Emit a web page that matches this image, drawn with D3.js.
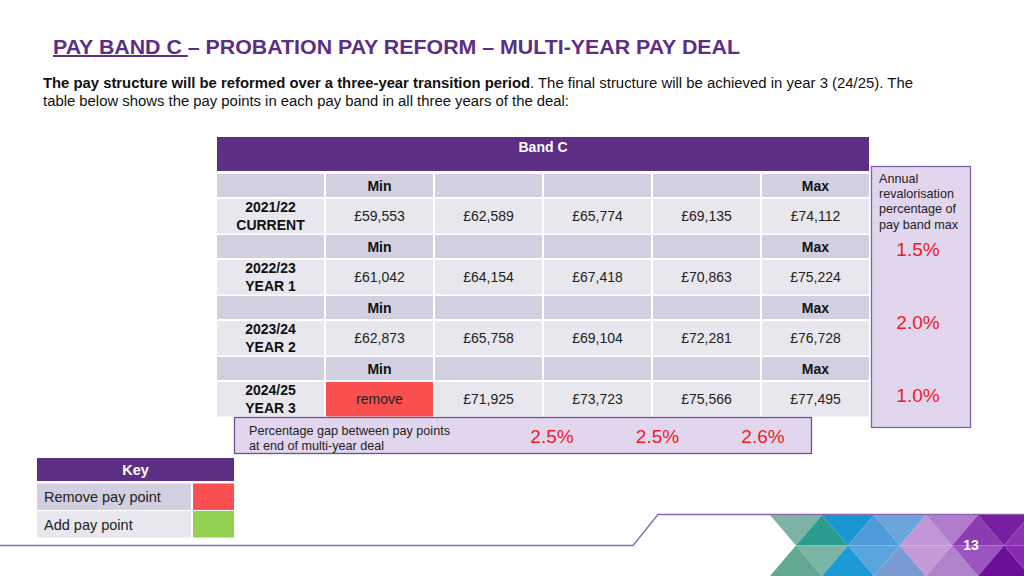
<!DOCTYPE html>
<html>
<head>
<meta charset="utf-8">
<script src="https://cdn.jsdelivr.net/npm/d3@7"></script>
<style>
  body { margin: 0; background: #fff; }
  svg { display: block; font-family: "Liberation Sans", Arial, sans-serif; }
</style>
</head>
<body>
<script>
// ---- data ----
var years = ["2021/22", "2022/23", "2023/24", "2024/25"],
    yearTags = ["CURRENT", "YEAR 1", "YEAR 2", "YEAR 3"],
    points = ["Min", "p2", "p3", "p4", "Max"],
    pay2122 = [59553, 62589, 65774, 69135, 74112],
    pay2223 = [61042, 64154, 67418, 70863, 75224],
    pay2324 = [62873, 65758, 69104, 72281, 76728],
    pay2425 = [null, 71925, 73723, 75566, 77495],   // null = pay point removed
    revalorisation = ["1.5%", "2.0%", "1.0%"],
    pointGaps = ["2.5%", "2.5%", "2.6%"],
    keyLabels = ["Remove pay point", "Add pay point"],
    keyColours = ["#fa4f4f", "#92d050"];

var payRows = [pay2122, pay2223, pay2324, pay2425];

// colours
var purple = "#5c2e84",
    minFill = "#d1cfe0",
    dataFill = "#e8e7ee",
    lavender = "#e1d6ee",
    red = "#ee1c25";

var width = 1024, height = 576;

var svg = d3.select("body").append("svg")
    .attr("width", width)
    .attr("height", height);

// ---- title + intro ----
var title = svg.append("text")
    .attr("x", 53).attr("y", 54)
    .attr("fill", purple)
    .attr("font-size", 20).attr("font-weight", "bold")
    .attr("textLength", 687).attr("lengthAdjust", "spacingAndGlyphs");
title.append("tspan").attr("text-decoration", "underline").text("PAY BAND C ");
title.append("tspan").text("– PROBATION PAY REFORM – MULTI-YEAR PAY DEAL");

var intro1 = svg.append("text").attr("x", 43).attr("y", 88).attr("font-size", 14).attr("fill", "#111");
intro1.append("tspan").attr("font-weight", "bold")
    .attr("textLength", 487).attr("lengthAdjust", "spacingAndGlyphs")
    .text("The pay structure will be reformed over a three-year transition period");
intro1.append("tspan")
    .attr("textLength", 383).attr("lengthAdjust", "spacingAndGlyphs")
    .text(". The final structure will be achieved in year 3 (24/25). The");
svg.append("text").attr("x", 43).attr("y", 106).attr("font-size", 14).attr("fill", "#111")
    .attr("textLength", 526).attr("lengthAdjust", "spacingAndGlyphs")
    .text("table below shows the pay points in each pay band in all three years of the deal:");

// ---- table scales ----
var x = d3.scaleBand()
    .domain(["label"].concat(points))
    .range([217, 869])
    .paddingInner(0.018);

var y = d3.scaleBand()
    .domain(years)
    .range([174, 416.5])
    .paddingInner(0.025);

var minH = 23, dataOff = 25;
var fmt = function(v) { return "£" + d3.format(",")(v); };

// header
svg.append("rect")
    .attr("x", x.range()[0]).attr("y", 137)
    .attr("width", x.range()[1] - x.range()[0]).attr("height", 34)
    .attr("fill", purple);
svg.append("text")
    .attr("x", (x.range()[0] + x.range()[1]) / 2).attr("y", 152)
    .attr("text-anchor", "middle").attr("fill", "#fff")
    .attr("font-size", 14).attr("font-weight", "bold")
    .text("Band C");

var cols = ["label"].concat(points);

var blocks = svg.append("g").selectAll("g")
    .data(years)
    .enter().append("g")
    .attr("transform", function(d) { return "translate(0," + y(d) + ")"; });

// min/max row
blocks.selectAll("rect.min")
    .data(cols)
    .enter().append("rect")
    .attr("class", "min")
    .attr("x", function(c) { return x(c); })
    .attr("width", x.bandwidth())
    .attr("height", minH)
    .attr("fill", minFill);

blocks.selectAll("text.min")
    .data(["Min", "Max"])
    .enter().append("text")
    .attr("class", "min")
    .attr("x", function(c) { return x(c) + x.bandwidth() / 2; })
    .attr("y", 17)
    .attr("text-anchor", "middle")
    .attr("font-size", 14).attr("font-weight", "bold").attr("fill", "#111")
    .text(function(c) { return c; });

// data row
blocks.selectAll("rect.val")
    .data(function(d, i) {
        return cols.map(function(c, j) { return { col: c, v: j === 0 ? "label" : payRows[i][j - 1] }; });
    })
    .enter().append("rect")
    .attr("class", "val")
    .attr("x", function(d) { return x(d.col); })
    .attr("y", dataOff)
    .attr("width", x.bandwidth())
    .attr("height", y.bandwidth() - dataOff)
    .attr("fill", function(d) { return d.v === null ? keyColours[0] : dataFill; });

blocks.selectAll("text.val")
    .data(function(d, i) {
        return points.map(function(c, j) { return { col: c, v: payRows[i][j] }; });
    })
    .enter().append("text")
    .attr("class", "val")
    .attr("x", function(d) { return x(d.col) + x.bandwidth() / 2; })
    .attr("y", dataOff + (y.bandwidth() - dataOff) / 2 + 5)
    .attr("text-anchor", "middle")
    .attr("font-size", 14).attr("fill", "#222")
    .text(function(d) { return d.v === null ? "remove" : fmt(d.v); });

// year labels
blocks.append("text")
    .attr("x", x("label") + x.bandwidth() / 2)
    .attr("y", dataOff + 13)
    .attr("text-anchor", "middle")
    .attr("font-size", 14).attr("font-weight", "bold").attr("fill", "#111")
    .selectAll("tspan")
    .data(function(d, i) { return [d, yearTags[i]]; })
    .enter().append("tspan")
    .attr("x", x("label") + x.bandwidth() / 2)
    .attr("dy", function(d, i) { return i ? 18 : 0; })
    .text(function(d) { return d; });

// ---- revalorisation panel ----
svg.append("rect")
    .attr("x", 871.5).attr("y", 166.5).attr("width", 99).attr("height", 261)
    .attr("fill", lavender).attr("stroke", "#7d64a0").attr("stroke-width", 1.3);

svg.append("text")
    .attr("x", 879).attr("y", 183)
    .attr("font-size", 12.6).attr("fill", "#222")
    .selectAll("tspan")
    .data(["Annual", "revalorisation", "percentage of", "pay band max"])
    .enter().append("tspan")
    .attr("x", 879)
    .attr("dy", function(d, i) { return i ? 15.2 : 0; })
    .text(function(d) { return d; });

var yReval = d3.scalePoint().domain(revalorisation.map(function(d, i) { return i; })).range([249, 395]);

svg.selectAll("text.reval")
    .data(revalorisation)
    .enter().append("text")
    .attr("class", "reval")
    .attr("x", 918)
    .attr("y", function(d, i) { return yReval(i) + 7; })
    .attr("text-anchor", "middle")
    .attr("font-size", 19).attr("fill", red)
    .text(function(d) { return d; });

// ---- gap box ----
svg.append("rect")
    .attr("x", 234.5).attr("y", 417.5).attr("width", 577).attr("height", 36)
    .attr("fill", lavender).attr("stroke", "#6e4f93").attr("stroke-width", 1.3);

svg.append("text")
    .attr("x", 249).attr("y", 435)
    .attr("font-size", 12.6).attr("fill", "#222")
    .selectAll("tspan")
    .data(["Percentage gap between pay points", "at end of multi-year deal"])
    .enter().append("tspan")
    .attr("x", 249)
    .attr("dy", function(d, i) { return i ? 15 : 0; })
    .text(function(d) { return d; });

var xGap = d3.scalePoint().domain(pointGaps.map(function(d, i) { return i; })).range([552, 763]);

svg.selectAll("text.gap")
    .data(pointGaps)
    .enter().append("text")
    .attr("class", "gap")
    .attr("x", function(d, i) { return xGap(i); })
    .attr("y", 443)
    .attr("text-anchor", "middle")
    .attr("font-size", 19).attr("fill", red)
    .text(function(d) { return d; });

// ---- key ----
svg.append("rect").attr("x", 37).attr("y", 458).attr("width", 197).attr("height", 23).attr("fill", purple);
svg.append("text").attr("x", 135.5).attr("y", 475)
    .attr("text-anchor", "middle").attr("fill", "#fff")
    .attr("font-size", 14.5).attr("font-weight", "bold").text("Key");

var yKey = d3.scaleBand().domain(keyLabels).range([483.5, 537.5]).paddingInner(0.04);

var keyRows = svg.append("g").selectAll("g")
    .data(keyLabels)
    .enter().append("g")
    .attr("transform", function(d) { return "translate(0," + yKey(d) + ")"; });

keyRows.append("rect")
    .attr("x", 37).attr("width", 154).attr("height", yKey.bandwidth())
    .attr("fill", function(d, i) { return i ? dataFill : minFill; });
keyRows.append("rect")
    .attr("x", 193).attr("width", 41).attr("height", yKey.bandwidth())
    .attr("fill", function(d, i) { return keyColours[i]; });
keyRows.append("text")
    .attr("x", 44).attr("y", yKey.bandwidth() / 2 + 5.5)
    .attr("font-size", 14.5).attr("fill", "#222")
    .text(function(d) { return d; });

// ---- footer ----
svg.append("path")
    .attr("d", "M0,545.5 L633,545.5 L658,514.5 L1024,514.5")
    .attr("fill", "none").attr("stroke", "#8d63b3").attr("stroke-width", 1.3);

var topCols = ["#7db3a6", "#2a9d8f", "#1a96d4", "#4f9bd9", "#6aa6dc", "#c196d6", "#b07ccb", "#8a3cb0", "#781ea0", "#8b35b0"],
    botCols = ["#62a892", "#7ab5a5", "#1c9ad6", "#5aa5de", "#7b9bd4", "#c59ad8", "#b083cb", "#9a55c0", "#6c0f98", "#8a2ab0"];
var fx = d3.scaleLinear().domain([0, 1]).range([770, 822]),   // one step = triangle base
    bandTop = 515, bandMid = 545.5, bandBot = 576;

var tris = svg.append("g");
topCols.forEach(function(c, i) {
    var k = Math.floor(i / 2), p;
    if (i % 2 === 0) p = [[fx(k), bandTop], [fx(k + 1), bandTop], [fx(k + 0.5), bandMid]];
    else p = [[fx(k + 0.5), bandMid], [fx(k + 1.5), bandMid], [fx(k + 1), bandTop]];
    tris.append("path").attr("d", "M" + p.join("L") + "Z").attr("fill", c);
});
botCols.forEach(function(c, i) {
    var k = Math.floor(i / 2), p;
    if (i % 2 === 0) p = [[fx(k), bandBot], [fx(k + 1), bandBot], [fx(k + 0.5), bandMid]];
    else p = [[fx(k + 0.5), bandMid], [fx(k + 1.5), bandMid], [fx(k + 1), bandBot]];
    tris.append("path").attr("d", "M" + p.join("L") + "Z").attr("fill", c);
});

svg.append("text").attr("x", 971).attr("y", 550)
    .attr("text-anchor", "middle").attr("fill", "#fff")
    .attr("font-size", 14).attr("font-weight", "bold").text("13");
</script>
</body>
</html>
